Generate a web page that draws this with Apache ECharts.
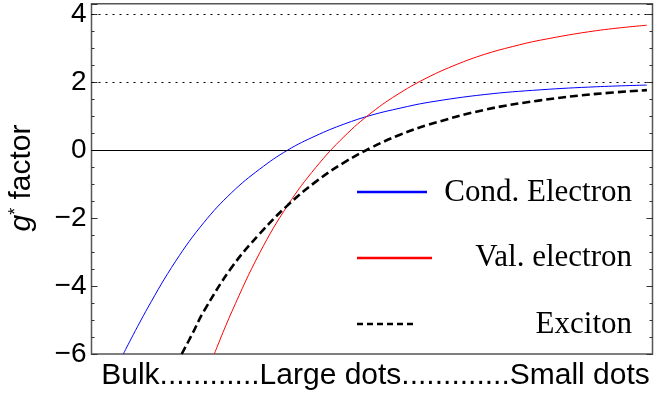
<!DOCTYPE html>
<html>
<head>
<meta charset="utf-8">
<script src="https://cdn.jsdelivr.net/npm/echarts@6/dist/echarts.min.js"></script>
<style>html,body{margin:0;padding:0;background:#fff}#c{width:658px;height:401px}</style>
</head>
<body>
<div id="c"></div>
<script>
// x position runs from 0 (bulk) to 10 (small dots), arbitrary units
const xBlue = [0.567, 1.0, 1.5, 2.0, 2.5, 3.0, 3.5, 4.0, 4.5, 5.0, 5.5, 6.0, 7.0, 8.0, 9.0, 9.9];
const yBlue = [-6, -4.65, -3.27, -2.14, -1.25, -0.56, 0, 0.42, 0.76, 1.03, 1.23, 1.40, 1.63, 1.77, 1.86, 1.91];
const xRed = [2.189, 2.5, 3.0, 3.5, 4.0, 4.5, 5.0, 5.5, 6.0, 6.5, 7.0, 7.5, 8.0, 9.0, 9.9];
const yRed = [-6, -4.76, -3.02, -1.62, -0.51, 0.39, 1.11, 1.68, 2.14, 2.51, 2.81, 3.04, 3.23, 3.51, 3.67];
const xExc = [1.608, 1.8, 2.0, 2.5, 3.0, 3.5, 4.0, 4.5, 5.0, 5.5, 6.0, 7.0, 8.0, 9.0, 9.9];
const yExc = [-6, -5.4, -4.75, -3.45, -2.46, -1.62, -0.93, -0.37, 0.08, 0.45, 0.74, 1.18, 1.46, 1.65, 1.76];
const seriesNames = ['Cond. Electron', 'Val. electron', 'Exciton'];
const dottedGrid = [2, 4];
const zeroLine = [0];
const xLabel = 'Bulk............Large dots.............Small dots';
const yMin = -6, yMax = 4.3, yStep = 2, yMinorStep = 0.5;

const pairs = (xs, ys) => xs.map((x, i) => [x, ys[i]]);
const sans = 'Liberation Sans, Arial, Helvetica, sans-serif';
const serif = 'Liberation Serif, Times New Roman, serif';
const fmt = v => (Math.abs(v / yStep - Math.round(v / yStep)) < 1e-9) ? String(v).replace('-', '\u2212') : '';

const chart = echarts.init(document.getElementById('c'), null, {renderer: 'canvas'});
const tickAxis = (pos, major) => ({
  type: 'value', position: pos, min: yMin, max: yMax,
  interval: major ? yStep : yMinorStep,
  axisLine: {show: false},
  axisTick: {show: true, inside: true, length: major ? 6 : 3, lineStyle: {color: '#333', width: 1}},
  axisLabel: {show: major && pos === 'left', inside: false, margin: 5, formatter: fmt,
    fontFamily: sans, fontSize: 28, color: '#000'},
  splitLine: {show: false}
});
const curve = (name, xs, ys, color, width, type, extra) => Object.assign({
  name: name, type: 'line', data: pairs(xs, ys), showSymbol: false, smooth: 0.4,
  lineStyle: {color: color, width: width, type: type}, itemStyle: {color: color}, z: 3
}, extra || {});
chart.setOption({
  animation: false,
  grid: {left: 91.5, right: 5.5, top: 3, bottom: 47, show: true, borderColor: '#555', borderWidth: 1.5, containLabel: false},
  xAxis: {
    type: 'value', min: 0, max: 10,
    axisLine: {show: false}, axisTick: {show: false}, axisLabel: {show: false}, splitLine: {show: false},
    name: xLabel, nameLocation: 'middle', nameGap: 7,
    nameTextStyle: {fontFamily: sans, fontSize: 30, color: '#000', verticalAlign: 'top', padding: [0, 0, 0, 7]}
  },
  yAxis: [tickAxis('left', true), tickAxis('left', false), tickAxis('right', true), tickAxis('right', false)],
  series: [
    curve(seriesNames[0], xBlue, yBlue, '#0000ff', 1, 'solid', {
      markLine: {silent: true, symbol: 'none', label: {show: false}, animation: false,
        lineStyle: {color: '#000', width: 1, type: [2, 5]},
        data: dottedGrid.map(v => ({yAxis: v}))}}),
    curve(seriesNames[1], xRed, yRed, '#ff0000', 1, 'solid', {
      markLine: {silent: true, symbol: 'none', label: {show: false}, animation: false,
        lineStyle: {color: '#000', width: 1, type: 'solid'},
        data: zeroLine.map(v => ({yAxis: v}))}}),
    curve(seriesNames[2], xExc, yExc, '#000', 2.6, [8, 4], {z: 4})
  ],
  graphic: [
    {type: 'text', x: 22, y: 178, rotation: Math.PI / 2,
     style: {text: '{i|g}{s|*} factor', align: 'center', verticalAlign: 'middle', fill: '#000',
       font: '30px ' + sans,
       rich: {i: {fontStyle: 'italic', fontSize: 30, fontFamily: sans},
              s: {fontSize: 18, fontFamily: sans, verticalAlign: 'top', padding: [0, 0, 12, 0]}}}},
    {type: 'line', shape: {x1: 357, y1: 192, x2: 427, y2: 192}, style: {stroke: '#0000ff', lineWidth: 2.5}},
    {type: 'line', shape: {x1: 357, y1: 258, x2: 432, y2: 258}, style: {stroke: '#ff0000', lineWidth: 2.5}},
    {type: 'line', shape: {x1: 357, y1: 324, x2: 417, y2: 324}, style: {stroke: '#000', lineWidth: 2.5, lineDash: [6, 4]}},
    {type: 'text', x: 632, y: 193, style: {text: seriesNames[0], align: 'right', verticalAlign: 'middle', font: '31px ' + serif, fill: '#000'}},
    {type: 'text', x: 632, y: 258, style: {text: seriesNames[1], align: 'right', verticalAlign: 'middle', font: '31px ' + serif, fill: '#000'}},
    {type: 'text', x: 632, y: 325, style: {text: seriesNames[2], align: 'right', verticalAlign: 'middle', font: '31px ' + serif, fill: '#000'}}
  ]
});
</script>
</body>
</html>
